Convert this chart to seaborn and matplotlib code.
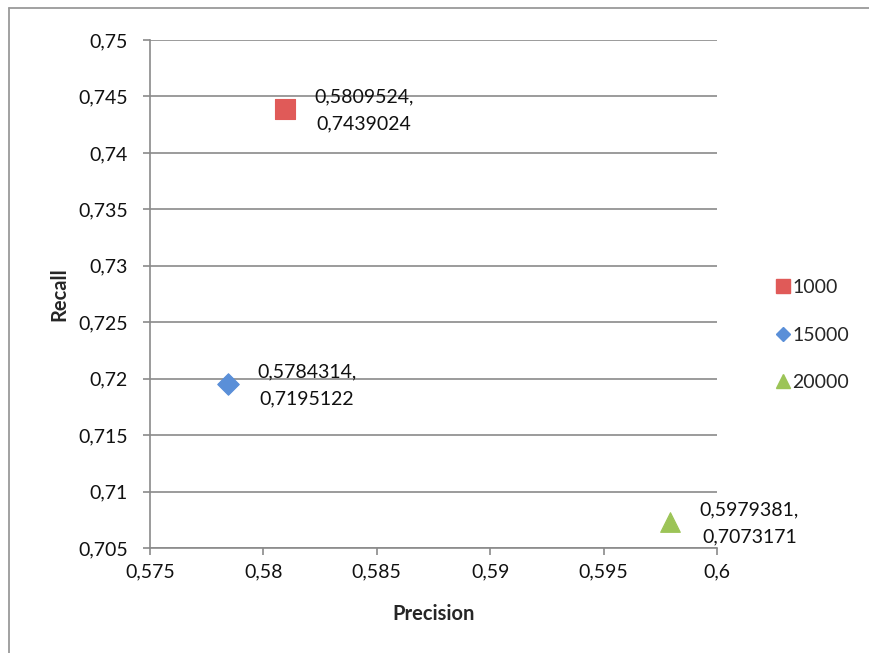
import matplotlib
matplotlib.use("Agg")
import matplotlib.pyplot as plt
import seaborn as sns
import pandas as pd
from matplotlib.lines import Line2D
from matplotlib.ticker import FuncFormatter

series = ["1000", "15000", "20000"]
precision = [0.5809524, 0.5784314, 0.5979381]
recall = [0.7439024, 0.7195122, 0.7073171]
labels = ["0,5809524,\n0,7439024", "0,5784314,\n0,7195122", "0,5979381,\n0,7073171"]
x_ticks = [0.575, 0.58, 0.585, 0.59, 0.595, 0.6]
y_ticks = [0.705, 0.71, 0.715, 0.72, 0.725, 0.73, 0.735, 0.74, 0.745, 0.75]

colors = {"1000": "#E05A58", "15000": "#5A8FD8", "20000": "#9CC457"}
markers = {"1000": "s", "15000": "D", "20000": "^"}
sizes_map = {"1000": 210, "15000": 120, "20000": 200}

df = pd.DataFrame({"Precision": precision, "Recall": recall, "Series": series})

sns.set_style("white")
plt.rcParams["font.family"] = ["Lato", "DejaVu Sans"]

fs = 14
fig = plt.figure(figsize=(8.69, 6.53), dpi=100)
ax = fig.add_axes([150/869, 1-548/653, (717-150)/869, (548-40)/653])

for s in series:
    sub = df[df["Series"] == s]
    sns.scatterplot(data=sub, x="Precision", y="Recall", marker=markers[s],
                    color=colors[s], s=sizes_map[s], edgecolor=colors[s],
                    linewidth=0.8, ax=ax, legend=False, zorder=3)

for xv, yv, lab in zip(precision, recall, labels):
    ax.annotate(lab, (xv, yv), xytext=(57, -1), textcoords="offset points",
                ha="center", va="center", fontsize=fs, linespacing=1.7,
                color="#111111")

ax.set_xlim(0.575, 0.6)
ax.set_ylim(0.705, 0.75)
ax.set_xticks(x_ticks)
ax.set_yticks(y_ticks)
fmt = FuncFormatter(lambda v, p: f"{v:g}".replace(".", ","))
ax.xaxis.set_major_formatter(fmt)
ax.yaxis.set_major_formatter(fmt)
ax.grid(axis="y", color="#8a8a8a", linewidth=1.2)
ax.grid(axis="x", visible=False)
ax.set_axisbelow(True)
for side in ["top", "right"]:
    ax.spines[side].set_visible(False)
for side in ["left", "bottom"]:
    ax.spines[side].set_color("#8a8a8a")
    ax.spines[side].set_linewidth(1.2)
ax.tick_params(axis="both", which="major", direction="out", length=5, width=1.2,
               color="#8a8a8a", labelsize=fs, labelcolor="#111111")
ax.tick_params(axis="y", pad=11, left=True)
ax.tick_params(axis="x", pad=6, bottom=True)
ax.set_xlabel("Precision", fontsize=14.5, fontweight="bold", labelpad=17)
ax.set_ylabel("Recall", fontsize=14.5, fontweight="bold", labelpad=6)

handles = [Line2D([0], [0], marker=markers[s], color="none", markerfacecolor=colors[s],
                  markeredgecolor=colors[s], markersize={"1000": 10, "15000": 7, "20000": 10}[s])
           for s in series]
fig.legend(handles, series, loc="center left", bbox_to_anchor=(765/869, 1-335/653),
           frameon=False, fontsize=fs, labelspacing=1.58, handlelength=0.8,
           handletextpad=0.1, borderpad=0)

# outer chart frame (top and left edges visible)
fig.add_artist(Line2D([9/869, 9/869], [0, 1-8/653], transform=fig.transFigure,
                      color="#9a9a9a", linewidth=1.3))
fig.add_artist(Line2D([9/869, 1], [1-8/653, 1-8/653], transform=fig.transFigure,
                      color="#9a9a9a", linewidth=1.3))

fig.savefig("out.png", dpi=100)
